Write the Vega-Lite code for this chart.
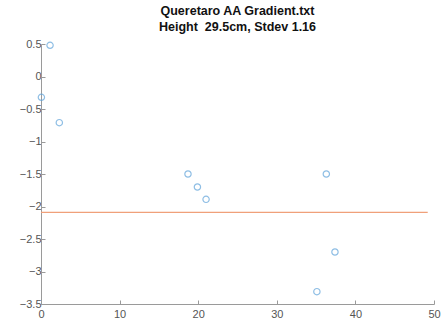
{
  "$schema": "https://vega.github.io/schema/vega-lite/v6.json",
  "autosize": "none",
  "width": 393,
  "height": 260,
  "padding": {"left": 41, "top": 44, "right": 9, "bottom": 23},
  "background": "white",
  "title": {
    "text": ["Queretaro AA Gradient.txt", "Height \u00a029.5cm, Stdev 1.16"],
    "font": "Liberation Sans",
    "fontSize": 12.5,
    "fontWeight": "bold",
    "color": "#111111",
    "anchor": "middle",
    "offset": 5,
    "lineHeight": 16
  },
  "config": {
    "view": {"stroke": null},
    "axis": {
      "grid": false,
      "domainColor": "#9a9a9a",
      "tickColor": "#9a9a9a",
      "tickSize": -4,
      "labelFont": "Liberation Sans",
      "labelFontSize": 11,
      "labelColor": "#555555",
      "labelPadding": 4,
      "labelBound": false,
      "labelFlush": false,
      "title": null
    }
  },
  "encoding": {
    "x": {"field": "x", "type": "quantitative", "scale": {"domain": [0, 50], "nice": false}, "axis": {"values": [0, 10, 20, 30, 40, 50], "labelPadding": 8, "labelOverlap": false}},
    "y": {"field": "y", "type": "quantitative", "scale": {"domain": [-3.5, 0.5], "nice": false}, "axis": {"values": [0.5, 0, -0.5, -1, -1.5, -2, -2.5, -3, -3.5], "format": "~g", "labelOverlap": false, "labelSeparation": 0}}
  },
  "layer": [
    {
      "data": {"values": [{"x": 0, "y": -2.09}, {"x": 49.2, "y": -2.09}]},
      "mark": {"type": "line", "color": "#f0a07a", "strokeWidth": 1.2}
    },
    {
      "data": {"values": [
        {"x": 1.15, "y": 0.48},
        {"x": 0.05, "y": -0.32},
        {"x": 2.33, "y": -0.71},
        {"x": 18.7, "y": -1.50},
        {"x": 19.9, "y": -1.70},
        {"x": 21.0, "y": -1.89},
        {"x": 36.3, "y": -1.50},
        {"x": 37.4, "y": -2.70},
        {"x": 35.1, "y": -3.31}
      ]},
      "mark": {"type": "point", "shape": "circle", "filled": false, "size": 40, "strokeWidth": 1.2, "color": "#5fa3da"}
    }
  ]
}
